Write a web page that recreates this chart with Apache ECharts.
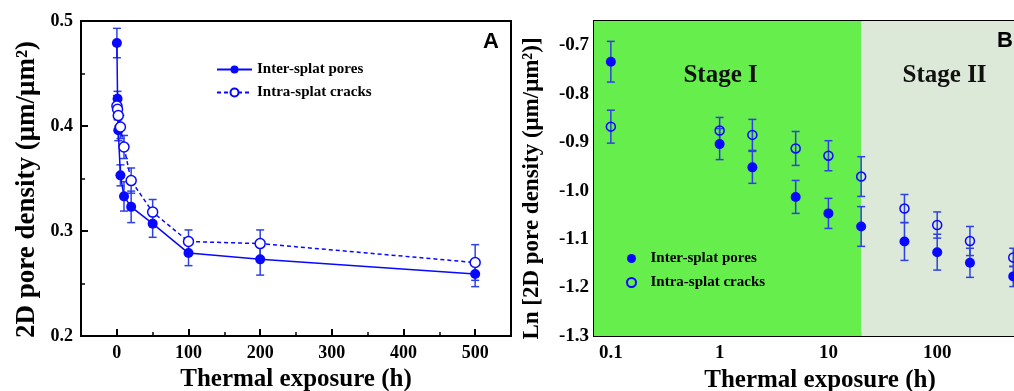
<!DOCTYPE html>
<html>
<head>
<meta charset="utf-8">
<script src="https://cdn.jsdelivr.net/npm/echarts@6/dist/echarts.min.js"></script>
<style>
  html, body { margin: 0; background: #fff; }
  #chart { width: 1014px; height: 391px; }
</style>
</head>
<body>
<div id="chart"></div>
<script>
// exposure times (h), shared by both panels
const hours = [0.1, 1, 2, 5, 10, 20, 50, 100, 200, 500];

// panel A: 2D pore density (um/um2)
const interA = [0.479, 0.426, 0.396, 0.353, 0.333, 0.323, 0.307, 0.279, 0.273, 0.259];
const interAErr = [0.014, 0.007, 0.010, 0.010, 0.014, 0.015, 0.013, 0.012, 0.015, 0.012];
const intraA = [0.419, 0.416, 0.410, 0.399, 0.380, 0.348, 0.318, 0.290, 0.288, 0.270];
const intraAErr = [0.010, 0.010, 0.010, 0.011, 0.011, 0.012, 0.012, 0.011, 0.013, 0.017];

// panel B: Ln of the pore density
const interLn = [-0.734, -0.904, -0.952, -1.013, -1.047, -1.074, -1.105, -1.127, -1.149, -1.177];
const interLnErr = [0.042, 0.032, 0.033, 0.034, 0.031, 0.041, 0.039, 0.037, 0.030, 0.021];
const intraLn = [-0.868, -0.876, -0.885, -0.913, -0.928, -0.971, -1.037, -1.071, -1.104, -1.138];
const intraLnErr = [0.034, 0.027, 0.032, 0.035, 0.031, 0.041, 0.029, 0.027, 0.030, 0.019];

// ticks
const xTicksA = [0, 100, 200, 300, 400, 500];
const xMinorA = [50, 150, 250, 350, 450];
const yTicksA = [0.2, 0.3, 0.4, 0.5];
const yMinorA = [0.25, 0.35, 0.45];
const xTicksB = [0.1, 1, 10, 100, 1000];
const xMinorB = [0.08, 0.09, 0.2, 0.3, 0.4, 0.5, 0.6, 0.7, 0.8, 0.9, 2, 3, 4, 5, 6, 7, 8, 9,
  20, 30, 40, 50, 60, 70, 80, 90, 200, 300, 400, 500, 600, 700, 800, 900];
const yTicksB = [-1.3, -1.2, -1.1, -1.0, -0.9, -0.8, -0.7];
const yMinorB = [-1.25, -1.15, -1.05, -0.95, -0.85, -0.75];

// stages in panel B
const stageNames = ['Stage I', 'Stage II'];
const stageBounds = [[0.07, 20], [20, 1000]];

const BLUE = '#0808ff';
const BAR = '#2e42e4';
const SERIF = '"Liberation Serif", "Times New Roman", serif';

const chart = echarts.init(document.getElementById('chart'));

function pairs(ys) {
  return hours.map((h, i) => [h, ys[i]]);
}
function triples(ys, errs) {
  return hours.map((h, i) => [h, ys[i], errs[i]]);
}

function errorBars(params, api) {
  const x = api.value(0), y = api.value(1), e = api.value(2);
  const hi = api.coord([x, y + e]);
  const lo = api.coord([x, y - e]);
  const cap = 4;
  const style = { stroke: BAR, lineWidth: 1.5 };
  return {
    type: 'group',
    children: [
      { type: 'line', shape: { x1: hi[0], y1: hi[1], x2: lo[0], y2: lo[1] }, style },
      { type: 'line', shape: { x1: hi[0] - cap, y1: hi[1], x2: hi[0] + cap, y2: hi[1] }, style },
      { type: 'line', shape: { x1: lo[0] - cap, y1: lo[1], x2: lo[0] + cap, y2: lo[1] }, style }
    ]
  };
}

const tickLabel = { fontFamily: SERIF, fontWeight: 'bold', fontSize: 18, color: '#000' };
const tickLabelB = Object.assign({}, tickLabel, { fontSize: 19 });
const axisName = { fontFamily: SERIF, fontWeight: 'bold', fontSize: 25, color: '#000' };
const blackLine = { show: true, onZero: false, lineStyle: { color: '#000', width: 2 } };

function minorAxis(extra) {
  return Object.assign({
    axisLine: { show: false, onZero: false },
    axisLabel: { show: false },
    splitLine: { show: false }
  }, extra);
}

const option = {
  backgroundColor: '#fff',
  animation: false,
  grid: [
    { left: 81, top: 21, width: 430, height: 315, show: true, borderColor: '#000', borderWidth: 2, outerBoundsMode: 'none' },
    { left: 594, top: 21, width: 452, height: 315, show: true, borderColor: '#000', borderWidth: 2, outerBoundsMode: 'none' }
  ],
  xAxis: [
    {
      gridIndex: 0, type: 'value', min: -50, max: 550, position: 'bottom',
      name: 'Thermal exposure (h)', nameLocation: 'middle', nameGap: 27, nameTextStyle: axisName,
      axisLine: blackLine,
      axisTick: { show: true, inside: true, length: 7, customValues: xTicksA, lineStyle: { color: '#000', width: 2 } },
      axisLabel: Object.assign({ margin: 8, customValues: xTicksA }, tickLabel),
      splitLine: { show: false }
    },
    minorAxis({ gridIndex: 0, type: 'value', min: -50, max: 550, position: 'bottom',
      axisTick: { show: true, inside: true, length: 4, customValues: xMinorA, lineStyle: { color: '#000', width: 1.5 } } }),
    {
      gridIndex: 1, type: 'log', logBase: 10, min: 0.07, max: 1000, position: 'bottom',
      name: 'Thermal exposure (h)', nameLocation: 'middle', nameGap: 27, nameTextStyle: axisName,
      axisLine: blackLine,
      axisTick: { show: true, inside: true, length: 7, customValues: xTicksB, lineStyle: { color: '#000', width: 2 } },
      axisLabel: Object.assign({
        margin: 8, customValues: xTicksB,
        formatter: v => (v < 1 ? v.toFixed(1) : String(Math.round(v)))
      }, tickLabelB),
      splitLine: { show: false }
    },
    minorAxis({ gridIndex: 1, type: 'log', logBase: 10, min: 0.07, max: 1000, position: 'bottom',
      axisTick: { show: true, inside: true, length: 4, customValues: xMinorB, lineStyle: { color: '#000', width: 1.5 } } })
  ],
  yAxis: [
    {
      gridIndex: 0, type: 'value', min: 0.2, max: 0.5, position: 'left',
      name: '2D pore density (μm/μm²)', nameLocation: 'middle', nameGap: 40,
      nameTextStyle: Object.assign({}, axisName, { fontSize: 27, padding: [0, 22, 0, 0] }),
      axisLine: blackLine,
      axisTick: { show: true, inside: true, length: 7, customValues: yTicksA, lineStyle: { color: '#000', width: 2 } },
      axisLabel: Object.assign({ margin: 8, customValues: yTicksA, formatter: v => v.toFixed(1) }, tickLabel),
      splitLine: { show: false }
    },
    minorAxis({ gridIndex: 0, type: 'value', min: 0.2, max: 0.5, position: 'left',
      axisTick: { show: true, inside: true, length: 4, customValues: yMinorA, lineStyle: { color: '#000', width: 1.5 } } }),
    {
      gridIndex: 1, type: 'value', min: -1.3, max: -0.65, position: 'left',
      name: 'Ln [2D pore density (μm/μm²)]', nameLocation: 'middle', nameGap: 50,
      nameTextStyle: Object.assign({}, axisName, { fontSize: 23, padding: [0, 20, 0, 0] }),
      axisLine: blackLine,
      axisTick: { show: true, inside: true, length: 7, customValues: yTicksB, lineStyle: { color: '#000', width: 2 } },
      axisLabel: Object.assign({ margin: 5, customValues: yTicksB, formatter: v => v.toFixed(1) }, tickLabelB),
      splitLine: { show: false }
    },
    minorAxis({ gridIndex: 1, type: 'value', min: -1.3, max: -0.65, position: 'left',
      axisTick: { show: true, inside: true, length: 4, customValues: yMinorB, lineStyle: { color: '#000', width: 1.5 } } })
  ],
  legend: [
    {
      data: ['Inter-splat pores', 'Intra-splat cracks'],
      orient: 'vertical', left: 211, top: 57, itemWidth: 35, itemHeight: 10, itemGap: 8,
      textStyle: { fontFamily: SERIF, fontWeight: 'bold', fontSize: 15, color: '#000' },
      selectedMode: false
    },
    {
      data: ['Inter-splat pores (Ln)', 'Intra-splat cracks (Ln)'],
      orient: 'vertical', left: 621, top: 246, itemWidth: 28, itemHeight: 9, itemGap: 9,
      formatter: n => n.replace(' (Ln)', ''),
      textStyle: { fontFamily: SERIF, fontWeight: 'bold', fontSize: 15, color: '#000' },
      selectedMode: false
    }
  ],
  graphic: [
    { type: 'text', z: 100, left: 483, top: 31, style: { text: 'A', font: 'bold 22px "Liberation Sans", Arial, sans-serif', fill: '#000' } },
    { type: 'text', z: 100, x: 997, y: 30, style: { text: 'B', font: 'bold 22px "Liberation Sans", Arial, sans-serif', fill: '#000' } }
  ],
  series: [
    // panel A
    { type: 'custom', xAxisIndex: 0, yAxisIndex: 0, z: 2, renderItem: errorBars, data: triples(interA, interAErr), silent: true },
    { type: 'custom', xAxisIndex: 0, yAxisIndex: 0, z: 2, renderItem: errorBars, data: triples(intraA, intraAErr), silent: true },
    {
      name: 'Inter-splat pores', type: 'line', xAxisIndex: 0, yAxisIndex: 0, z: 3,
      data: pairs(interA), symbol: 'circle', symbolSize: 10,
      itemStyle: { color: BLUE }, lineStyle: { color: BLUE, width: 1.5 }
    },
    {
      name: 'Intra-splat cracks', type: 'line', xAxisIndex: 0, yAxisIndex: 0, z: 3,
      data: pairs(intraA), symbol: 'circle', symbolSize: 10,
      itemStyle: { color: '#fff', borderColor: BLUE, borderWidth: 1.5 },
      lineStyle: { color: BLUE, width: 1.5, type: [4, 3] }
    },
    // panel B stage backgrounds
    {
      type: 'line', xAxisIndex: 2, yAxisIndex: 2, z: 1, data: [], silent: true,
      markArea: {
        silent: true,
        data: stageBounds.map((b, i) => [
          {
            xAxis: b[0], name: stageNames[i],
            itemStyle: { color: i === 0 ? '#66ee4c' : '#dce8d8' },
            label: { offset: [i === 0 ? -7 : -9, 0] }
          },
          { xAxis: b[1] }
        ]),
        label: {
          show: true, position: 'insideTop', distance: 42,
          fontFamily: SERIF, fontWeight: 'bold', fontSize: 25, color: '#111'
        }
      }
    },
    { type: 'custom', xAxisIndex: 2, yAxisIndex: 2, z: 2, renderItem: errorBars, data: triples(interLn, interLnErr), silent: true },
    { type: 'custom', xAxisIndex: 2, yAxisIndex: 2, z: 2, renderItem: errorBars, data: triples(intraLn, intraLnErr), silent: true },
    {
      name: 'Inter-splat pores (Ln)', type: 'scatter', xAxisIndex: 2, yAxisIndex: 2, z: 3,
      data: pairs(interLn), symbol: 'circle', symbolSize: 10,
      itemStyle: { color: BLUE, opacity: 1 }
    },
    {
      name: 'Intra-splat cracks (Ln)', type: 'scatter', xAxisIndex: 2, yAxisIndex: 2, z: 3,
      data: pairs(intraLn), symbol: 'circle', symbolSize: 9,
      itemStyle: { color: 'rgba(0,0,0,0)', borderColor: BLUE, borderWidth: 1.5, opacity: 1 }
    }
  ]
};

chart.setOption(option);
</script>
</body>
</html>
